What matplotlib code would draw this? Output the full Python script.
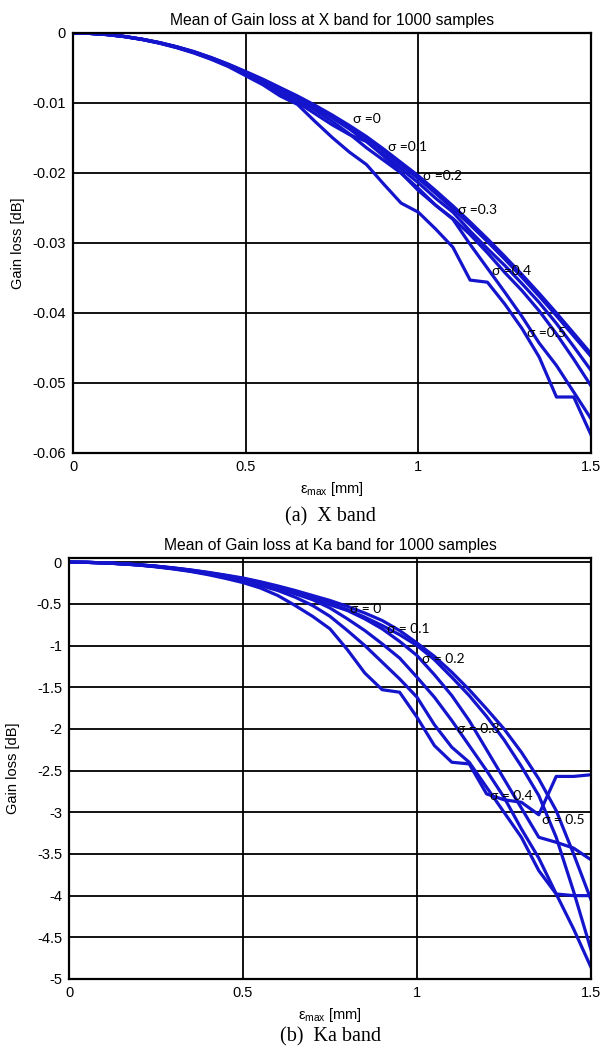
import numpy as np
import matplotlib
matplotlib.use('Agg')
import matplotlib.pyplot as plt

plt.rcParams['font.family'] = ['Liberation Sans', 'DejaVu Sans']
plt.rcParams['mathtext.fontset'] = 'custom'
plt.rcParams['mathtext.rm'] = 'Liberation Sans'
plt.rcParams['mathtext.it'] = 'Liberation Sans'

# epsilon_max grid [mm]
eps = [0, .05, .1, .15, .2, .25, .3, .35, .4, .45, .5, .55, .6, .65, .7, .75,
       .8, .85, .9, .95, 1.0, 1.05, 1.1, 1.15, 1.2, 1.25, 1.3, 1.35, 1.4, 1.45, 1.5]

# X band mean gain loss, in units of 1e-3 dB
x_s0 = [0, -0.06, -0.22, -0.5, -0.88, -1.36, -1.95, -2.65, -3.5, -4.45, -5.5, -6.6, -7.8, -9.0, -10.3, -11.7,
        -13.2, -14.8, -16.6, -18.5, -20.4, -22.5, -24.7, -27.0, -29.4, -31.9, -34.5, -37.2, -40.0, -42.9, -45.8]
x_s1 = [0, -0.06, -0.22, -0.5, -0.88, -1.37, -1.97, -2.68, -3.53, -4.5, -5.6, -6.7, -7.9, -9.1, -10.4, -11.9,
        -13.4, -15.0, -16.9, -18.9, -20.8, -22.9, -25.1, -27.4, -29.8, -32.3, -34.9, -37.6, -40.4, -43.3, -46.2]
x_s2 = [0, -0.06, -0.23, -0.51, -0.9, -1.39, -2.0, -2.72, -3.58, -4.56, -5.7, -6.8, -8.0, -9.2, -10.6, -12.1,
        -13.7, -15.5, -17.4, -19.4, -21.4, -23.6, -25.6, -28.3, -30.8, -33.2, -35.8, -38.5, -41.5, -44.8, -48.2]
x_s3 = [0, -0.06, -0.23, -0.52, -0.91, -1.41, -2.03, -2.76, -3.63, -4.63, -5.8, -6.9, -8.2, -9.5, -11.0, -12.6,
        -14.4, -16.4, -18.2, -20.0, -22.2, -24.6, -26.5, -28.8, -31.4, -34.2, -36.8, -39.7, -43.0, -46.6, -50.4]
x_s4 = [0, -0.06, -0.23, -0.52, -0.92, -1.43, -2.06, -2.8, -3.68, -4.7, -5.9, -7.1, -8.6, -9.9, -11.5, -13.1,
        -14.5, -15.5, -17.6, -20.0, -22.5, -24.6, -26.6, -30.2, -33.6, -37.0, -40.5, -44.3, -47.5, -51.3, -55.1]
x_s5 = [0, -0.06, -0.24, -0.53, -0.94, -1.46, -2.1, -2.86, -3.76, -4.8, -6.1, -7.4, -9.0, -10.2, -12.6, -14.9,
        -17.0, -18.8, -21.6, -24.3, -25.6, -28.0, -30.6, -35.3, -35.6, -38.7, -42.2, -46.3, -52.0, -52.0, -57.4]

# Ka band mean gain loss [dB]
ka_s0 = [0, -0.002, -0.008, -0.018, -0.03, -0.047, -0.068, -0.093, -0.122, -0.155, -0.19, -0.235, -0.285, -0.34, -0.4, -0.46,
         -0.53, -0.61, -0.7, -0.82, -0.97, -1.13, -1.32, -1.53, -1.76, -2.0, -2.28, -2.6, -2.98, -3.5, -4.05]
ka_s1 = [0, -0.002, -0.008, -0.018, -0.031, -0.048, -0.07, -0.096, -0.126, -0.16, -0.197, -0.243, -0.295, -0.355, -0.42, -0.49,
         -0.57, -0.66, -0.76, -0.87, -1.0, -1.17, -1.38, -1.6, -1.85, -2.13, -2.45, -2.8, -3.3, -3.95, -4.65]
ka_s2 = [0, -0.002, -0.008, -0.019, -0.032, -0.05, -0.072, -0.099, -0.13, -0.166, -0.205, -0.252, -0.305, -0.37, -0.44, -0.51,
         -0.58, -0.68, -0.8, -0.95, -1.12, -1.35, -1.6, -1.9, -2.25, -2.6, -2.95, -3.3, -3.36, -3.43, -3.57]
ka_s3 = [0, -0.002, -0.009, -0.019, -0.033, -0.052, -0.075, -0.103, -0.136, -0.174, -0.215, -0.265, -0.32, -0.38, -0.45, -0.55,
         -0.68, -0.82, -0.98, -1.15, -1.38, -1.62, -1.9, -2.2, -2.5, -2.82, -3.2, -3.55, -3.98, -4.4, -4.86]
ka_s4 = [0, -0.002, -0.009, -0.02, -0.034, -0.054, -0.078, -0.107, -0.142, -0.182, -0.225, -0.28, -0.34, -0.42, -0.52, -0.65,
         -0.82, -1.0, -1.2, -1.4, -1.62, -1.95, -2.22, -2.4, -2.7, -3.0, -3.3, -3.7, -3.98, -4.0, -4.0]
ka_s5 = [0, -0.002, -0.009, -0.02, -0.035, -0.056, -0.082, -0.112, -0.15, -0.195, -0.245, -0.31, -0.4, -0.52, -0.65, -0.8,
         -1.05, -1.33, -1.53, -1.56, -1.86, -2.2, -2.4, -2.42, -2.78, -2.85, -2.88, -3.03, -2.57, -2.57, -2.55]

sigma_labels_x = ['\u03c3 =0', '\u03c3 =0.1', '\u03c3 =0.2', '\u03c3 =0.3', '\u03c3 =0.4', '\u03c3 =0.5']
sigma_labels_ka = ['\u03c3 = 0', '\u03c3 = 0.1', '\u03c3 = 0.2', '\u03c3 = 0.3', '\u03c3 = 0.4', '\u03c3 = 0.5']
# where the sigma labels sit (left edge, centre)
lab_pos_x = [(0.811, -0.0123), (0.912, -0.0163), (1.013, -0.0204), (1.115, -0.0253), (1.213, -0.034), (1.315, -0.0429)]
lab_pos_ka = [(0.807, -0.564), (0.914, -0.80), (1.014, -1.16), (1.115, -2.0), (1.21, -2.81), (1.36, -3.09)]

blue = '#1414cc'

fig = plt.figure(figsize=(6.02, 10.55), dpi=100)
ax1 = fig.add_axes([73/602, 1-453/1055, 518/602, 420/1055])
ax2 = fig.add_axes([69/602, 1-979/1055, 522/602, 421/1055])

for curve in [x_s0, x_s1, x_s2, x_s3, x_s4, x_s5]:
    ax1.plot(eps, np.array(curve)/1000., color=blue, lw=2.3)
for curve in [ka_s0, ka_s1, ka_s2, ka_s3, ka_s4, ka_s5]:
    ax2.plot(eps, curve, color=blue, lw=2.3)

ax1.set_ylim(-0.06, 0)
ax1.set_yticks([0, -0.01, -0.02, -0.03, -0.04, -0.05, -0.06])
ax1.set_yticklabels(['0', '-0.01', '-0.02', '-0.03', '-0.04', '-0.05', '-0.06'])
ax2.set_ylim(-5, 0.05)
ax2.set_yticks([0, -0.5, -1, -1.5, -2, -2.5, -3, -3.5, -4, -4.5, -5])
ax2.set_yticklabels(['0', '-0.5', '-1', '-1.5', '-2', '-2.5', '-3', '-3.5', '-4', '-4.5', '-5'])

for ax in [ax1, ax2]:
    ax.set_xlim(0, 1.5)
    ax.set_xticks([0, 0.5, 1, 1.5])
    ax.set_xticklabels(['0', '0.5', '1', '1.5'])
    ax.grid(True, color='black', lw=1.3)
    ax.set_axisbelow(True)
    ax.tick_params(length=0, labelsize=10.5, pad=5)
    for sp in ax.spines.values():
        sp.set_linewidth(1.6)
    ax.set_xlabel(r'$\varepsilon_{\mathrm{max}}$ [mm]', fontsize=10.5, labelpad=4)
    ax.set_ylabel('Gain loss [dB]', fontsize=10.5)
    ax.yaxis.set_label_coords(-0.093, 0.5)

ax1.set_title('Mean of Gain loss at X band for 1000 samples', fontsize=11.3, pad=6)
ax2.set_title('Mean of Gain loss at Ka band for 1000 samples', fontsize=11.3, pad=6)

for txt, (px, py) in zip(sigma_labels_x, lab_pos_x):
    ax1.text(px, py, txt, fontsize=10, va='center', ha='left', family=['Lato', 'DejaVu Sans'])
for txt, (px, py) in zip(sigma_labels_ka, lab_pos_ka):
    ax2.text(px, py, txt, fontsize=10, va='center', ha='left', family=['Lato', 'DejaVu Sans'])

fig.text(330/602, 1-517/1055, '(a)  X band', ha='center', va='center', fontsize=14.5,
         family=['Liberation Serif'])
fig.text(330/602, 1-1037/1055, '(b)  Ka band', ha='center', va='center', fontsize=14.5,
         family=['Liberation Serif'])

fig.savefig('out.png', dpi=100)
